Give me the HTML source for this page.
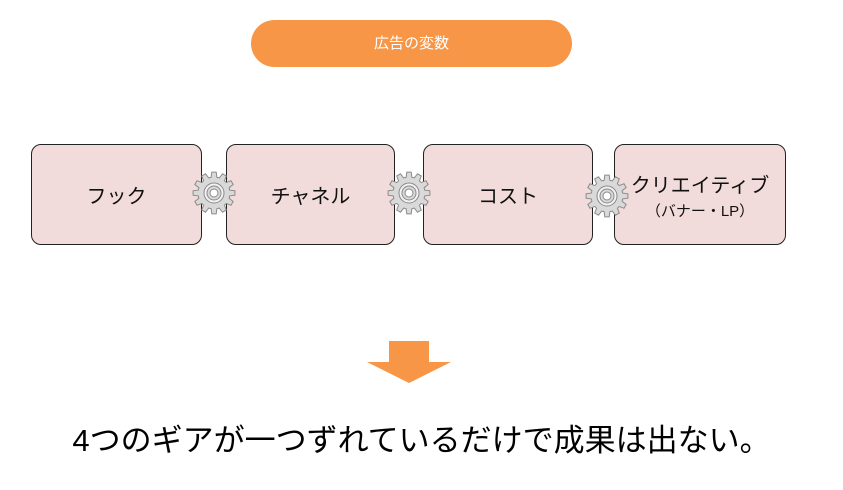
<!DOCTYPE html>
<html><head><meta charset="utf-8"><style>
body{margin:0;width:843px;height:490px;background:#fff;position:relative;overflow:hidden;font-family:"Liberation Sans","Noto Sans CJK JP",sans-serif}
.pill{position:absolute;left:251px;top:20px;width:321px;height:47px;border-radius:24px;background:#f79646;color:#fff;font-size:15px;line-height:47px;text-align:center}
.box{position:absolute;top:144px;height:101px;background:#f2dcdb;border:1.3px solid #222;border-radius:10px;box-sizing:border-box;display:flex;flex-direction:column;align-items:center;justify-content:center;font-size:20px;color:#111}
.box small{font-size:15px;margin-top:2px}
.t{position:absolute;left:0;width:843px;top:419px;text-align:center;font-size:31px;letter-spacing:0;color:#000;line-height:44px}
svg{position:absolute;left:0;top:0}
</style></head><body>
<div class="pill">広告の変数</div>
<div class="box" style="left:31px;width:171px">フック</div>
<div class="box" style="left:226px;width:169px">チャネル</div>
<div class="box" style="left:423px;width:170px">コスト</div>
<div class="box" style="left:614px;width:172px">クリエイティブ<small>（バナー・LP）</small></div>
<svg width="843" height="490">
<g id="gears"></g>
<polygon points="389,341 429,341 429,362 451,362 409,383 367,362 389,362" fill="#f79646"/>
</svg>
<div class="t">4つのギアが一つずれているだけで成果は出ない。</div>
<script>
function gear(cx,cy){
 var n=12,ro=21,ri=16,s='';
 for(var i=0;i<n;i++){
  var a=i*2*Math.PI/n, w=Math.PI/n*0.5;
  var pts=[[ri,a-w*1.4],[ro,a-w*0.8],[ro,a+w*0.8],[ri,a+w*1.4]];
  pts.forEach(function(p,j){var x=cx+p[0]*Math.cos(p[1]),y=cy+p[0]*Math.sin(p[1]);s+=(i==0&&j==0?'M':'L')+x.toFixed(1)+','+y.toFixed(1)+' ';});
 }
 s+='Z';
 return '<path d="'+s+'" fill="#d9d9d9" stroke="#8a8a8a" stroke-width="1"/>'+
 '<circle cx="'+cx+'" cy="'+cy+'" r="10" fill="#f2f2f2" stroke="#8a8a8a"/>'+
 '<circle cx="'+cx+'" cy="'+cy+'" r="7" fill="#d9d9d9" stroke="#8a8a8a"/>'+
 '<circle cx="'+cx+'" cy="'+cy+'" r="4" fill="#fff" stroke="#8a8a8a"/>';
}
document.getElementById('gears').innerHTML=gear(214,193)+gear(409,193)+gear(607,196);
</script>
</body></html>
